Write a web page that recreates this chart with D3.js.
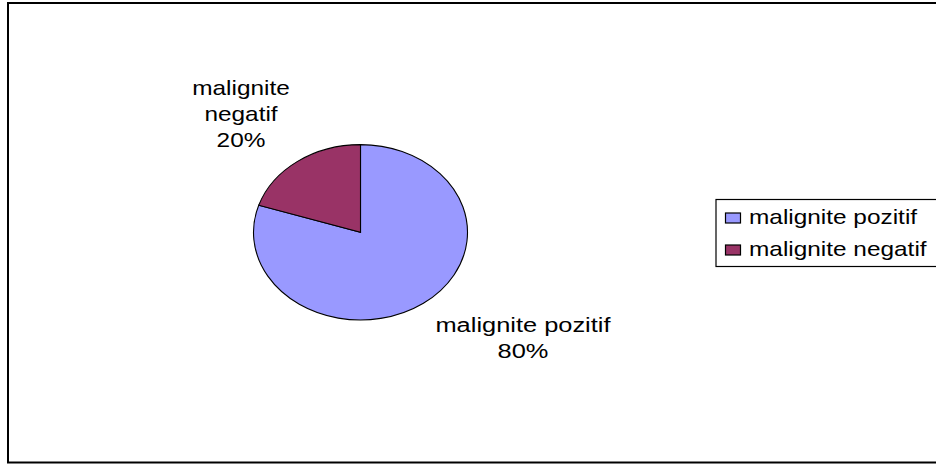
<!DOCTYPE html>
<html>
<head>
<meta charset="utf-8">
<script src="https://cdn.jsdelivr.net/npm/d3@7"></script>
<style>
  html, body { margin: 0; padding: 0; background: #fff; }
  svg { display: block; }
  text { font-family: "Liberation Sans", Arial, sans-serif; fill: #000; }
</style>
</head>
<body>
<svg id="chart" width="936" height="465"></svg>
<script>
const categories = ["malignite pozitif", "malignite negatif"];
const values = [80, 20];
const percentLabels = ["80%", "20%"];
const colors = ["#9999FF", "#993366"];

const svg = d3.select("#chart");
const sx = 1.22; // horizontal stretch of the original image

// outer frame
svg.append("rect")
  .attr("x", 8).attr("y", 3)
  .attr("width", 940).attr("height", 459.5)
  .attr("fill", "none").attr("stroke", "#000").attr("stroke-width", 2);

const cx = 360.5, cy = 232.3, ry = 87.7;
const pie = d3.pie().sort(null).value(d => d)(values);
const arc = d3.arc().innerRadius(0).outerRadius(ry);

const g = svg.append("g").attr("transform", `translate(${cx},${cy}) scale(${107 / ry},1)`);
g.selectAll("path").data(pie).join("path")
  .attr("d", arc)
  .attr("fill", (d, i) => colors[i])
  .attr("stroke", "#000")
  .attr("stroke-width", 1.1)
  .attr("vector-effect", "non-scaling-stroke");

// data labels
const labelPos = [
  { x: 523, y: 332, s: 1.27 },
  { x: 241, y: 95, s: sx }
];
labelPos.forEach((lp, i) => {
  const t = svg.append("g").attr("transform", `translate(${lp.x},${lp.y}) scale(${lp.s},1)`);
  const lines = i === 0 ? [categories[0], percentLabels[0]] : [categories[1].split(" ")[0], categories[1].split(" ")[1], percentLabels[1]];
  lines.forEach((s, k) => {
    t.append("text")
      .attr("x", 0).attr("y", k * 26)
      .attr("text-anchor", "middle")
      .attr("font-size", 20)
      .text(s);
  });
});

// legend
svg.append("rect")
  .attr("x", 716).attr("y", 199.5)
  .attr("width", 240).attr("height", 67)
  .attr("fill", "#fff").attr("stroke", "#000").attr("stroke-width", 1.2);

categories.forEach((c, i) => {
  const y0 = 213 + i * 32;
  svg.append("rect")
    .attr("x", 725.5).attr("y", y0)
    .attr("width", 15).attr("height", 10)
    .attr("fill", colors[i]).attr("stroke", "#000").attr("stroke-width", 1.2);
  svg.append("g").attr("transform", `translate(749,${y0 + 10.5}) scale(${sx},1)`)
    .append("text")
    .attr("font-size", 20)
    .text(c);
});
</script>
</body>
</html>
